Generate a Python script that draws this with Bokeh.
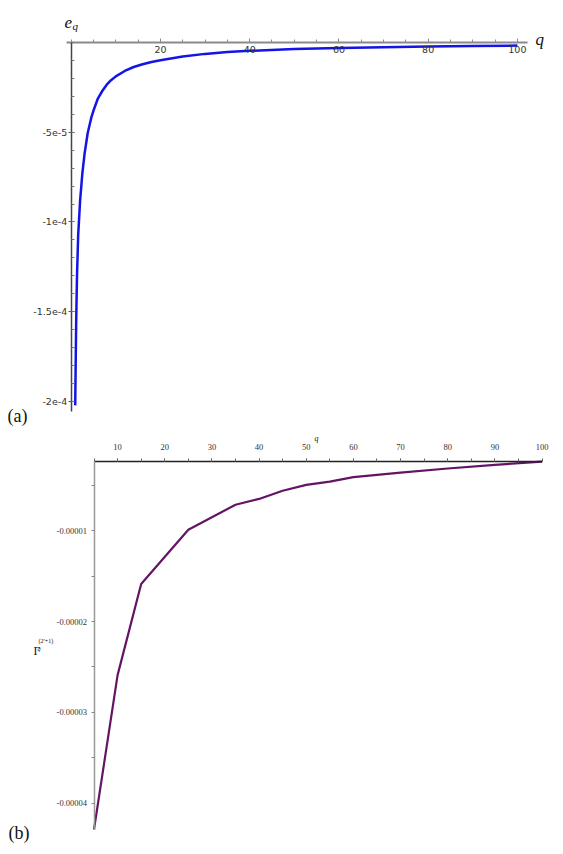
from bokeh.plotting import figure
from bokeh.models import Range1d, FixedTicker, Label
from bokeh.embed import file_html
from bokeh.resources import INLINE
import numpy as np

# ---------------- data ----------------
# panel (a): e_q versus q
q_a = [0.9, 1.0, 1.12, 1.3, 1.57, 2.0, 2.5, 3.0, 3.7, 4.5, 5.0, 6.0, 7.0, 8.0,
       9.0, 10, 12, 14, 16, 18, 20, 25, 30, 35, 40, 50, 60, 70, 80, 90, 100]
e_a = [-2.02e-4, -1.80e-4, -1.55e-4, -1.30e-4, -1.07e-4, -8.8e-5, -7.3e-5,
       -6.2e-5, -5.05e-5, -4.2e-5, -3.8e-5, -3.12e-5, -2.7e-5, -2.35e-5,
       -2.1e-5, -1.9e-5, -1.6e-5, -1.38e-5, -1.23e-5, -1.1e-5, -1.0e-5,
       -7.9e-6, -6.5e-6, -5.5e-6, -4.8e-6, -3.85e-6, -3.2e-6, -2.75e-6,
       -2.4e-6, -2.15e-6, -1.9e-6]

# panel (b): Gamma_q^(2'+1) versus q
q_b = [5, 10, 15, 25, 35, 40, 45, 50, 55, 60, 70, 80, 90, 100]
g_b = [-4.29e-5, -2.59e-5, -1.586e-5, -0.99e-5, -0.714e-5, -0.65e-5, -0.56e-5,
       -0.495e-5, -0.46e-5, -0.41e-5, -0.36e-5, -0.315e-5, -0.275e-5, -0.240e-5]

# tick values / labels
xa_ticks = [20, 40, 60, 80, 100]
ya_ticks = [-5e-5, -1e-4, -1.5e-4, -2e-4]
ya_labels = ["-5e-5", "-1e-4", "-1.5e-4", "-2e-4"]
xb_ticks = [10, 20, 30, 40, 50, 60, 70, 80, 90, 100]
yb_ticks = [-1e-5, -2e-5, -3e-5, -4e-5]
yb_labels = ["-0.00001", "-0.00002", "-0.00003", "-0.00004"]

W = 563
HA = 432
HB = 422


def bare(p):
    p.outline_line_color = None
    p.grid.visible = False
    p.background_fill_color = "white"
    p.border_fill_color = "white"


# ---------------- panel (a) ----------------
# frame covers the whole canvas; axes are placed at fixed data locations
pa = figure(width=W, height=HA, output_backend="svg", toolbar_location=None,
            x_range=Range1d(-15.845, 110.33), y_range=Range1d(-2.1708e-4, 2.319e-5),
            min_border=0)
bare(pa)

pa.line(q_a, e_a, line_color="#1414e6", line_width=2.5, line_join="round")

xa = pa.xaxis[0]
xa.fixed_location = 0
xa.bounds = (-1.05, 102.3)
xa.ticker = FixedTicker(ticks=xa_ticks, minor_ticks=list(np.arange(0, 101, 5)))
xa.axis_line_color = "#8a8a8a"
xa.axis_line_width = 2
xa.major_tick_in = 4
xa.major_tick_out = 0
xa.minor_tick_in = 3
xa.minor_tick_out = 0
xa.major_tick_line_color = "#8a8a8a"
xa.minor_tick_line_color = "#8a8a8a"
xa.major_label_text_font = "DejaVu Sans"
xa.major_label_text_font_size = "9.5px"
xa.major_label_text_color = "#333333"
xa.major_label_standoff = 4

ya = pa.yaxis[0]
ya.fixed_location = 0
ya.bounds = (-2.054e-4, 0)
ya.ticker = FixedTicker(ticks=ya_ticks,
                        minor_ticks=list(np.arange(-20, 1, 1) * 1e-5))
ya.major_label_overrides = {t: s for t, s in zip(ya_ticks, ya_labels)}
ya.axis_line_color = "#444444"
ya.axis_line_width = 1.5
ya.major_tick_in = 3
ya.major_tick_out = 3
ya.minor_tick_in = 3
ya.minor_tick_out = 0
ya.major_tick_line_color = "#555555"
ya.minor_tick_line_color = "#777777"
ya.major_label_text_font = "DejaVu Sans"
ya.major_label_text_font_size = "9.5px"
ya.major_label_text_color = "#333333"
ya.major_label_standoff = 1

# labels: screen units (frame = canvas, origin bottom-left)
for txt, x, y, size, style in [("e", 64, HA - 22, "17px", "italic"),
                               ("q", 72, HA - 25, "11px", "italic"),
                               ("q", 535, HA - 39, "17px", "italic"),
                               ("(a)", 7, HA - 415, "18px", "normal")]:
    pa.add_layout(Label(x=x, y=y, x_units="screen", y_units="screen", text=txt,
                        text_font="Liberation Serif", text_font_size=size,
                        text_font_style=style, text_color="#111111",
                        text_align="left", text_baseline="alphabetic"))

# ---------------- panel (b) ----------------
pb = figure(width=W, height=HB, output_backend="svg", toolbar_location=None,
            x_axis_location="above",
            x_range=Range1d(-14.826, 104.55), y_range=Range1d(-4.5653e-5, 8.13e-7),
            min_border=0)
bare(pb)

pb.line(q_b, g_b, line_color="#641464", line_width=2.2, line_join="round")

xb = pb.xaxis[0]
xb.fixed_location = -2.38e-6
xb.bounds = (5, 100)
xb.ticker = FixedTicker(ticks=xb_ticks, minor_ticks=list(np.arange(5, 100, 5)))
xb.axis_line_color = "#222222"
xb.axis_line_width = 1.5
xb.major_tick_in = 0
xb.major_tick_out = 3
xb.minor_tick_in = 0
xb.minor_tick_out = 3
xb.major_tick_line_color = "#666666"
xb.minor_tick_line_color = "#666666"
xb.major_label_text_font = "Liberation Serif"
xb.major_label_text_font_size = "8.5px"
xb.major_label_text_color = "#333333"
xb.major_label_standoff = 8

yb = pb.yaxis[0]
yb.fixed_location = 5
yb.bounds = (-4.29e-5, -2.38e-6)
yb.ticker = FixedTicker(ticks=yb_ticks, minor_ticks=[-5e-6, -1.5e-5, -2.5e-5, -3.5e-5])
yb.major_label_overrides = {t: s for t, s in zip(yb_ticks, yb_labels)}
yb.axis_line_color = "#999999"
yb.axis_line_width = 1.5
yb.major_tick_in = 0
yb.major_tick_out = 3
yb.minor_tick_in = 0
yb.minor_tick_out = 3
yb.major_tick_line_color = "#888888"
yb.minor_tick_line_color = "#888888"
yb.major_label_text_font = "Liberation Serif"
yb.major_label_text_font_size = "8.5px"
yb.major_label_text_color = "#333333"
yb.major_label_standoff = 4

for txt, x, y, size, style in [("q", 314, HB - 6, "8px", "italic"),
                               ("\u0393", 33, HB - 218, "12px", "normal"),
                               ("(2\u2032+1)", 38, HB - 208, "6px", "normal"),
                               ("q", 37, HB - 216, "6px", "italic"),
                               ("(b)", 8, HB - 400, "18px", "normal")]:
    pb.add_layout(Label(x=x, y=y, x_units="screen", y_units="screen", text=txt,
                        text_font="Liberation Serif", text_font_size=size,
                        text_font_style=style, text_color="#111111",
                        text_align="left", text_baseline="alphabetic"))

open("out.html", "w").write(file_html([pa, pb], INLINE))
